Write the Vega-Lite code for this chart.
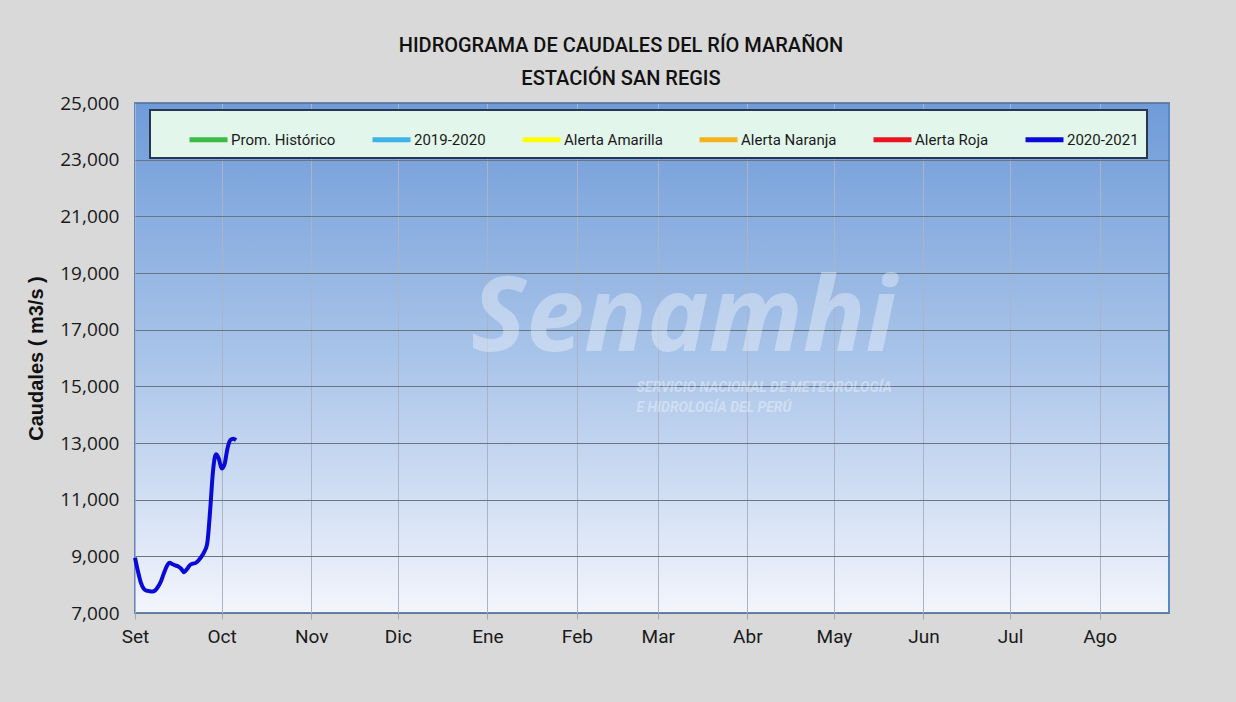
{
  "$schema": "https://vega.github.io/schema/vega-lite/v6.json",
  "width": 1034,
  "height": 510,
  "autosize": {"type": "none"},
  "padding": {"left": 135, "top": 103, "right": 67, "bottom": 89},
  "background": "#d9d9d9",
  "title": {
    "text": ["HIDROGRAMA DE CAUDALES DEL RÍO MARAÑON", "ESTACIÓN SAN REGIS"],
    "anchor": "middle",
    "dx": -31,
    "offset": 5,
    "font": "Roboto",
    "fontSize": 20,
    "fontWeight": 500,
    "lineHeight": 33,
    "color": "#111111"
  },
  "datasets": {
    "flows": [
      {"fecha": "2020-09-01", "serie": "2020-2021", "caudal": 8950},
      {"fecha": "2020-09-02", "serie": "2020-2021", "caudal": 8480},
      {"fecha": "2020-09-03", "serie": "2020-2021", "caudal": 8080},
      {"fecha": "2020-09-04", "serie": "2020-2021", "caudal": 7860},
      {"fecha": "2020-09-05", "serie": "2020-2021", "caudal": 7790},
      {"fecha": "2020-09-06", "serie": "2020-2021", "caudal": 7770},
      {"fecha": "2020-09-07", "serie": "2020-2021", "caudal": 7760},
      {"fecha": "2020-09-08", "serie": "2020-2021", "caudal": 7800},
      {"fecha": "2020-09-09", "serie": "2020-2021", "caudal": 7930},
      {"fecha": "2020-09-10", "serie": "2020-2021", "caudal": 8120},
      {"fecha": "2020-09-11", "serie": "2020-2021", "caudal": 8400},
      {"fecha": "2020-09-12", "serie": "2020-2021", "caudal": 8650},
      {"fecha": "2020-09-13", "serie": "2020-2021", "caudal": 8770},
      {"fecha": "2020-09-14", "serie": "2020-2021", "caudal": 8720},
      {"fecha": "2020-09-15", "serie": "2020-2021", "caudal": 8680},
      {"fecha": "2020-09-16", "serie": "2020-2021", "caudal": 8640},
      {"fecha": "2020-09-17", "serie": "2020-2021", "caudal": 8560},
      {"fecha": "2020-09-18", "serie": "2020-2021", "caudal": 8440},
      {"fecha": "2020-09-19", "serie": "2020-2021", "caudal": 8550},
      {"fecha": "2020-09-20", "serie": "2020-2021", "caudal": 8690},
      {"fecha": "2020-09-21", "serie": "2020-2021", "caudal": 8740},
      {"fecha": "2020-09-22", "serie": "2020-2021", "caudal": 8770},
      {"fecha": "2020-09-23", "serie": "2020-2021", "caudal": 8860},
      {"fecha": "2020-09-24", "serie": "2020-2021", "caudal": 8990},
      {"fecha": "2020-09-25", "serie": "2020-2021", "caudal": 9160},
      {"fecha": "2020-09-26", "serie": "2020-2021", "caudal": 9450},
      {"fecha": "2020-09-27", "serie": "2020-2021", "caudal": 10600},
      {"fecha": "2020-09-28", "serie": "2020-2021", "caudal": 12000},
      {"fecha": "2020-09-29", "serie": "2020-2021", "caudal": 12600},
      {"fecha": "2020-09-30", "serie": "2020-2021", "caudal": 12450},
      {"fecha": "2020-10-01", "serie": "2020-2021", "caudal": 12100},
      {"fecha": "2020-10-02", "serie": "2020-2021", "caudal": 12250},
      {"fecha": "2020-10-03", "serie": "2020-2021", "caudal": 12800},
      {"fecha": "2020-10-04", "serie": "2020-2021", "caudal": 13100},
      {"fecha": "2020-10-05", "serie": "2020-2021", "caudal": 13150},
      {"fecha": "2020-10-06", "serie": "2020-2021", "caudal": 13100}
    ],
    "marca": [
      {"fecha": "2021-03-10", "caudal": 17350, "texto": "Senamhi", "tipo": "logo"},
      {"fecha": "2021-03-22", "caudal": 14950, "texto": "SERVICIO NACIONAL DE METEOROLOGÍA", "tipo": "sub"},
      {"fecha": "2021-03-22", "caudal": 14250, "texto": "E HIDROLOGÍA DEL PERÚ", "tipo": "sub"}
    ]
  },
  "layer": [
    {
      "data": {"name": "marca"},
      "transform": [{"filter": "datum.tipo == 'logo'"}],
      "mark": {"type": "text", "font": "Open Sans", "fontSize": 104, "fontWeight": "bold", "fontStyle": "italic", "color": "#ffffff", "opacity": 0.35, "align": "center", "baseline": "middle"},
      "encoding": {
        "x": {"field": "fecha", "type": "temporal"},
        "y": {"field": "caudal", "type": "quantitative"},
        "text": {"field": "texto"}
      }
    },
    {
      "data": {"name": "marca"},
      "transform": [{"filter": "datum.tipo == 'sub'"}],
      "mark": {"type": "text", "font": "Roboto", "fontSize": 14, "fontWeight": "bold", "fontStyle": "italic", "color": "#ffffff", "opacity": 0.35, "align": "left", "baseline": "middle", "dx": -82},
      "encoding": {
        "x": {"field": "fecha", "type": "temporal"},
        "y": {"field": "caudal", "type": "quantitative"},
        "text": {"field": "texto"}
      }
    },
    {
      "data": {"name": "flows"},
      "mark": {"type": "line", "strokeWidth": 4, "interpolate": "monotone"},
      "encoding": {
        "x": {
          "field": "fecha",
          "type": "temporal",
          "scale": {"type": "utc", "domain": [{"year": 2020, "month": 9, "date": 1, "utc": true}, {"year": 2021, "month": 8, "date": 25, "utc": true}]},
          "axis": {
            "title": null,
            "values": [
              {"year": 2020, "month": 9, "date": 1, "utc": true},
              {"year": 2020, "month": 10, "date": 1, "utc": true},
              {"year": 2020, "month": 11, "date": 1, "utc": true},
              {"year": 2020, "month": 12, "date": 1, "utc": true},
              {"year": 2021, "month": 1, "date": 1, "utc": true},
              {"year": 2021, "month": 2, "date": 1, "utc": true},
              {"year": 2021, "month": 3, "date": 1, "utc": true},
              {"year": 2021, "month": 4, "date": 1, "utc": true},
              {"year": 2021, "month": 5, "date": 1, "utc": true},
              {"year": 2021, "month": 6, "date": 1, "utc": true},
              {"year": 2021, "month": 7, "date": 1, "utc": true},
              {"year": 2021, "month": 8, "date": 1, "utc": true}
            ],
            "labelExpr": "['Ene','Feb','Mar','Abr','May','Jun','Jul','Ago','Set','Oct','Nov','Dic'][utcmonth(datum.value)]",
            "labelFont": "Roboto",
            "labelFontSize": 19,
            "labelColor": "#1a1a1a",
            "labelPadding": 8,
            "labelAlign": "center",
            "tickColor": "#a0a8b4",
            "tickSize": 6,
            "domain": false,
            "grid": true,
            "gridColor": "#aab4c4",
            "gridWidth": 1
          }
        },
        "y": {
          "field": "caudal",
          "type": "quantitative",
          "scale": {"domain": [7000, 25000], "nice": false, "zero": false},
          "axis": {
            "title": "Caudales ( m3/s )",
            "titleFont": "Liberation Sans, Arial",
            "titleFontSize": 20,
            "titleFontWeight": "bold",
            "titleColor": "#111111",
            "titlePadding": 13,
            "values": [7000, 9000, 11000, 13000, 15000, 17000, 19000, 21000, 23000, 25000],
            "format": ",d",
            "labelFont": "Open Sans",
            "labelFontSize": 19,
            "labelColor": "#1a1a1a",
            "labelPadding": 16,
            "ticks": false,
            "domain": false,
            "grid": true,
            "gridColor": "#6a7482",
            "gridWidth": 1.2
          }
        },
        "color": {
          "field": "serie",
          "type": "nominal",
          "scale": {
            "domain": ["Prom. Histórico", "2019-2020", "Alerta Amarilla", "Alerta Naranja", "Alerta Roja", "2020-2021"],
            "range": ["#3dbb45", "#3cb4e8", "#ffff00", "#f5b21a", "#e8141e", "#0a0ad8"]
          },
          "legend": {
            "title": null,
            "orient": "none",
            "legendX": 15,
            "legendY": 7,
            "direction": "horizontal",
            "columns": 6,
            "columnPadding": 5,
            "padding": 8,
            "symbolOffset": 29,
            "symbolType": "stroke",
            "symbolStrokeWidth": 5,
            "symbolSize": 1444,
            "labelFont": "Roboto",
            "labelFontSize": 15,
            "labelColor": "#1a1a1a",
            "labelOffset": 1,
            "fillColor": "#e3f6ec",
            "strokeColor": "#26374f",
            "encode": {"legend": {"update": {"strokeWidth": {"value": 2}}}}
          }
        }
      }
    }
  ],
  "config": {
    "view": {
      "fill": {"gradient": "linear", "x1": 0, "y1": 0, "x2": 0, "y2": 1, "stops": [{"offset": 0, "color": "#6f9bd8"}, {"offset": 0.5, "color": "#a9c4e9"}, {"offset": 1, "color": "#f3f5fc"}]},
      "stroke": "#5b87c6",
      "strokeWidth": 2
    }
  }
}
